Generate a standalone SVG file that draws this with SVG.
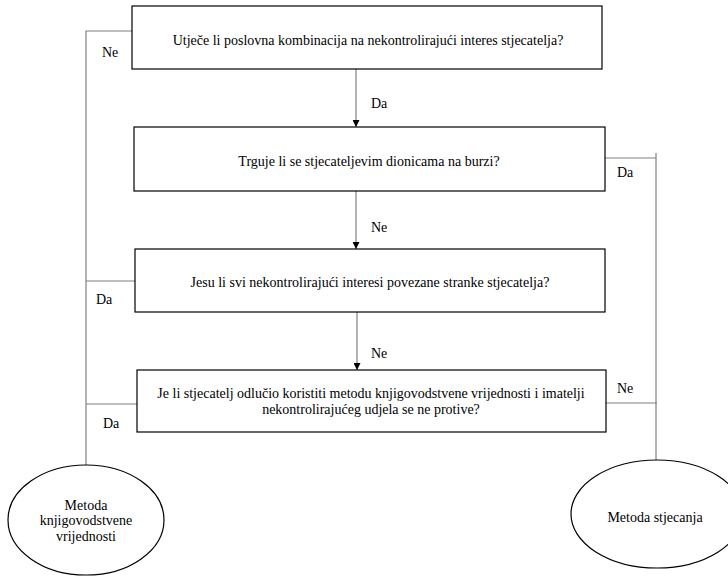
<svg xmlns="http://www.w3.org/2000/svg" width="728" height="576" viewBox="0 0 728 576" font-family="'Liberation Serif', serif" font-size="14">
<style>
.box{fill:#fff;stroke:#000;stroke-width:1.2}
.conn{fill:none;stroke:#7f7f7f;stroke-width:1.2}
.c{text-anchor:middle}
</style>
<defs>
<marker id="ah" viewBox="0 0 10 10" refX="10" refY="5" markerWidth="7" markerHeight="7" markerUnits="userSpaceOnUse" orient="auto">
<path d="M0,0 L10,5 L0,10 Z" fill="#000"/>
</marker>
</defs>
<g id="connectors">
<path class="conn" d="M132,31 H86 V465"/>
<path class="conn" d="M356,69 V127" marker-end="url(#ah)"/>
<path class="conn" d="M356,191 V249" marker-end="url(#ah)"/>
<path class="conn" d="M357,312 V370" marker-end="url(#ah)"/>
<path class="conn" d="M605,158 H656"/>
<path class="conn" d="M656,153 V460"/>
<path class="conn" d="M135,281 H86"/>
<path class="conn" d="M137,404 H86"/>
<path class="conn" d="M606,403 H657"/>
<text x="102" y="57">Ne</text>
<text x="371" y="108">Da</text>
<text x="617" y="177">Da</text>
<text x="371" y="232">Ne</text>
<text x="96" y="304">Da</text>
<text x="371" y="358">Ne</text>
<text x="103" y="428">Da</text>
<text x="617" y="393">Ne</text>
</g>
<g id="q1">
<rect class="box" x="132" y="6" width="470" height="63"/>
<text class="c" x="368" y="45">Utječe li poslovna kombinacija na nekontrolirajući interes stjecatelja?</text>
</g>
<g id="q2">
<rect class="box" x="134" y="127" width="471" height="64"/>
<text class="c" x="369" y="166">Trguje li se stjecateljevim dionicama na burzi?</text>
</g>
<g id="q3">
<rect class="box" x="135" y="249" width="470" height="63"/>
<text class="c" x="370" y="287">Jesu li svi nekontrolirajući interesi povezane stranke stjecatelja?</text>
</g>
<g id="q4">
<rect class="box" x="137" y="370" width="469" height="62"/>
<text class="c" x="371" y="398">Je li stjecatelj odlučio koristiti metodu knjigovodstvene vrijednosti i imatelji</text>
<text class="c" x="371" y="414">nekontrolirajućeg udjela se ne protive?</text>
</g>
<g id="e1">
<ellipse class="box" cx="86" cy="520" rx="78" ry="55"/>
<text class="c" x="86" y="510">Metoda</text>
<text class="c" x="86" y="525">knjigovodstvene</text>
<text class="c" x="86" y="541">vrijednosti</text>
</g>
<g id="e2">
<ellipse class="box" cx="657" cy="514" rx="86" ry="54"/>
<text class="c" x="655" y="522">Metoda stjecanja</text>
</g>
</svg>
